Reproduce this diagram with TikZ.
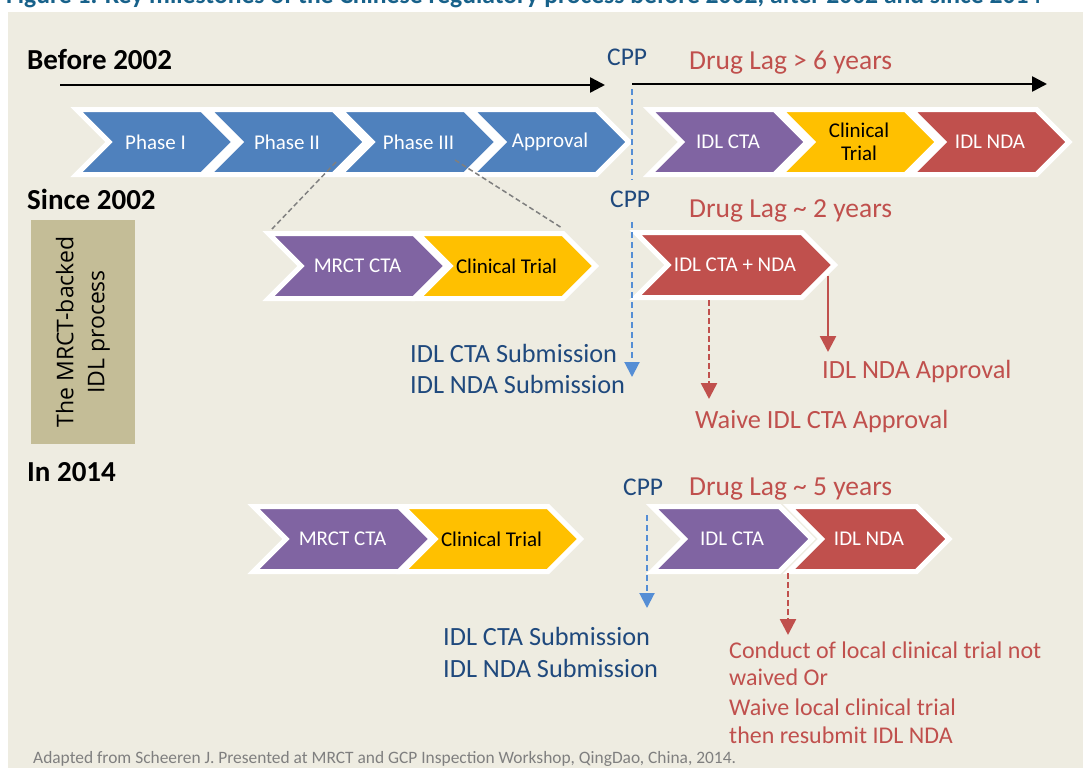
\documentclass[tikz,border=0pt]{standalone}
\usepackage{fontspec}
\setmainfont{Carlito}
\newfontfamily\boxfont{Open Sans}
\usepackage{tikz}
\usetikzlibrary{positioning,arrows.meta,shapes.symbols}
\definecolor{panelbg}{HTML}{EEECE1}
\definecolor{tanbox}{HTML}{C4BD97}
\definecolor{phaseblue}{HTML}{4F81BD}
\definecolor{ctapurple}{HTML}{8064A2}
\definecolor{trialyellow}{HTML}{FFC000}
\definecolor{ndared}{HTML}{C0504D}
\definecolor{cppblue}{HTML}{1F497D}
\definecolor{dashblue}{HTML}{558ED5}
\definecolor{titleteal}{HTML}{17618A}
\definecolor{notegray}{HTML}{7F7F7F}
\newcommand{\fsz}[2]{\fontsize{#1}{#2}\selectfont}

\begin{document}
\begin{tikzpicture}[
    x=1pt, y=-1pt,
    chev/.style={signal, signal from=west, signal to=east, draw=white, line width=5pt, minimum height=65pt, inner sep=0pt, text=white, align=center, font=\fsz{21}{23}},
    chevdark/.style={chev, text=black},
    txt/.style={anchor=base west, inner sep=0pt},
    era/.style={txt, font=\bfseries\fsz{29}{32}},
    cpp/.style={txt, text=cppblue, font=\fsz{25.5}{30}},
    lag/.style={txt, text=ndared, font=\fsz{27.5}{32}},
    sub/.style={txt, text=cppblue, font=\fsz{26.3}{31}},
    outcome/.style={txt, text=ndared, font=\fsz{26.3}{31}},
    note/.style={txt, text=ndared, font=\fsz{24}{28}},
    timearr/.style={-{Triangle[length=15pt,width=15pt]}, line width=2.5pt, black},
    cppline/.style={dashblue, line width=2pt, dash pattern=on 6pt off 4pt},
    cpparr/.style={cppline, -{Triangle[length=15pt,width=15pt]}},
    lagarr/.style={-{Triangle[length=16pt,width=16pt]}, ndared, line width=2.5pt},
    lagdash/.style={lagarr, dash pattern=on 6pt off 3pt},
    zoomline/.style={notegray, line width=1.5pt, dash pattern=on 5pt off 3pt}
]
    \clip (0,0) rectangle (1083,768);
    \fill[panelbg] (8,12) rectangle (1083,768);
    \node[txt, text=titleteal, font=\bfseries\fsz{25.6}{30}] (title) at (6,4) {Figure 1. Key milestones of the Chinese regulatory process before 2002, after 2002 and since 2014};

    % Before 2002
    \node[era] (before) at (27,69) {Before 2002};
    \node[cpp] (cppA) at (607,65) {CPP};
    \node[lag] (lagA) at (689,69) {Drug Lag > 6 years};
    \coordinate (tA1) at (60,85); \coordinate (tA2) at (605,85);
    \coordinate (tA3) at (632,84); \coordinate (tA4) at (1047,84);
    \draw[timearr] (tA1) -- (tA2);
    \draw[timearr] (tA3) -- (tA4);
    \node[chev, fill=phaseblue, minimum width=158pt] (p1) at (155.5,142) {Phase I};
    \node[chev, fill=phaseblue, minimum width=158pt] (p2) at (287,142) {Phase II};
    \node[chev, fill=phaseblue, minimum width=158pt] (p3) at (418.5,142) {Phase III};
    \node[chev, fill=phaseblue, minimum width=158pt] (appr) at (550,142) {Approval};
    \node[chev, fill=ctapurple, minimum width=158pt] (ctaA) at (728,142) {IDL CTA};
    \node[chevdark, fill=trialyellow, minimum width=158pt] (trialA) at (859,142) {Clinical\\Trial};
    \node[chev, fill=ndared, minimum width=158pt] (ndaA) at (990,142) {IDL NDA};

    % Since 2002
    \node[era] (since) at (27,209) {Since 2002};
    \node[cpp] (cppB) at (610,207) {CPP};
    \node[lag] (lagB) at (689,217) {Drug Lag \textasciitilde{} 2 years};
    \node[fill=tanbox, rotate=90, minimum width=224pt, minimum height=104pt, inner sep=0pt, align=center, font=\boxfont\fsz{23}{31}] (mrctbox) at (83,332) {The MRCT-backed\\IDL process};
    \node[chev, fill=ctapurple, minimum width=178pt] (mrctB) at (357.5,266) {MRCT CTA};
    \node[chevdark, fill=trialyellow, minimum width=178pt] (trialB) at (506.5,266) {Clinical Trial};
    \node[chev, fill=ndared, minimum width=199pt] (ctandaB) at (735,265) {IDL CTA + NDA};

    % zoom-in guides
    \coordinate (zA1) at (336,162); \coordinate (zA2) at (272,229);
    \coordinate (zB1) at (455,160); \coordinate (zB2) at (562,228);
    \draw[zoomline] (zA1) -- (zA2);
    \draw[zoomline] (zB1) -- (zB2);

    \coordinate (cA1) at (632,89); \coordinate (cA2) at (632,180);
    \coordinate (cB1) at (632,222); \coordinate (cB2) at (632,377);
    \draw[cppline] (cA1) -- (cA2);
    \draw[cpparr] (cB1) -- (cB2);
    \node[sub] (subB1) at (410,362) {IDL CTA Submission};
    \node[sub] (subB2) at ([yshift=-31pt]subB1.base west) {IDL NDA Submission};

    \coordinate (wB1) at (709,300); \coordinate (wB2) at (709,399);
    \draw[lagdash] (wB1) -- (wB2);
    \node[outcome] (waiveB) at (695,428) {Waive IDL CTA Approval};
    \coordinate (aB1) at (828,276); \coordinate (aB2) at (828,352);
    \draw[lagarr] (aB1) -- (aB2);
    \node[outcome] (apprB) at (822,378) {IDL NDA Approval};

    % In 2014
    \node[era] (in2014) at (27,481) {In 2014};
    \node[cpp] (cppC) at (623,495) {CPP};
    \node[lag] (lagC) at (689,495) {Drug Lag \textasciitilde{} 5 years};
    \node[chev, fill=ctapurple, minimum width=178pt] (mrctC) at (342.5,539) {MRCT CTA};
    \node[chevdark, fill=trialyellow, minimum width=178pt] (trialC) at (491.5,539) {Clinical Trial};
    \node[chev, fill=ctapurple, minimum width=160pt] (ctaC) at (732,539) {IDL CTA};
    \node[chev, fill=ndared, minimum width=160pt] (ndaC) at (869,539) {IDL NDA};

    \coordinate (cC1) at (647,515); \coordinate (cC2) at (647,608);
    \draw[cpparr] (cC1) -- (cC2);
    \node[sub] (subC1) at (443,645) {IDL CTA Submission};
    \node[sub] (subC2) at ([yshift=-32pt]subC1.base west) {IDL NDA Submission};

    \coordinate (wC1) at (788,573); \coordinate (wC2) at (788,635);
    \draw[lagdash] (wC1) -- (wC2);
    \node[note] (noteC1) at (729,658) {Conduct of local clinical trial not};
    \node[note] (noteC2) at ([yshift=-27pt]noteC1.base west) {waived Or};
    \node[note] (noteC3) at ([yshift=-30pt]noteC2.base west) {Waive local clinical trial};
    \node[note] (noteC4) at ([yshift=-28pt]noteC3.base west) {then resubmit IDL NDA};

    \node[txt, text=notegray, font=\fsz{17.4}{20}] (source) at (33,763) {Adapted from Scheeren J. Presented at MRCT and GCP Inspection Workshop, QingDao, China, 2014.};
\end{tikzpicture}
\end{document}
